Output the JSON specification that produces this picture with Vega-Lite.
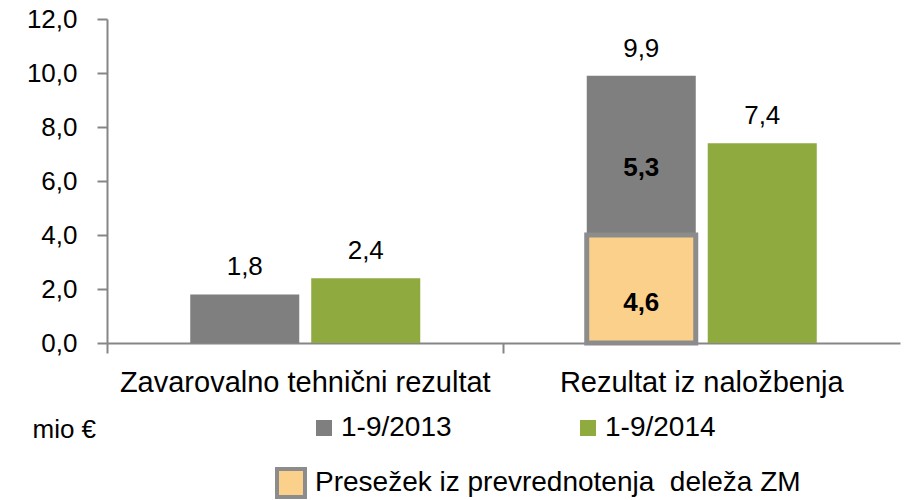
{
  "$schema": "https://vega.github.io/schema/vega-lite/v6.json",
  "autosize": {"type": "none"},
  "padding": {"left": 107, "top": 19, "right": 4, "bottom": 157},
  "width": 793,
  "height": 324,
  "background": "white",
  "config": {
    "view": {"stroke": null},
    "font": "Liberation Sans"
  },
  "datasets": {
    "bars": [
      {"cat": "Zavarovalno tehnični rezultat", "series": "1-9/2013", "part": "1-9/2013", "lo": 0, "hi": 1.8},
      {"cat": "Zavarovalno tehnični rezultat", "series": "1-9/2014", "part": "1-9/2014", "lo": 0, "hi": 2.4},
      {"cat": "Rezultat iz naložbenja", "series": "1-9/2013", "part": "1-9/2013", "lo": 4.0, "hi": 9.9},
      {"cat": "Rezultat iz naložbenja", "series": "1-9/2014", "part": "1-9/2014", "lo": 0, "hi": 7.4}
    ],
    "surplus": [
      {"cat": "Rezultat iz naložbenja", "series": "1-9/2013", "part": "Presežek iz prevrednotenja\u00a0 deleža ZM", "lo": 0, "hi": 4.0}
    ],
    "totals": [
      {"cat": "Zavarovalno tehnični rezultat", "series": "1-9/2013", "value": 1.8, "label": "1,8"},
      {"cat": "Zavarovalno tehnični rezultat", "series": "1-9/2014", "value": 2.4, "label": "2,4"},
      {"cat": "Rezultat iz naložbenja", "series": "1-9/2013", "value": 9.9, "label": "9,9"},
      {"cat": "Rezultat iz naložbenja", "series": "1-9/2014", "value": 7.4, "label": "7,4"}
    ],
    "inner": [
      {"cat": "Rezultat iz naložbenja", "series": "1-9/2013", "at": 6.5, "label": "5,3"},
      {"cat": "Rezultat iz naložbenja", "series": "1-9/2013", "at": 1.48, "label": "4,6"}
    ]
  },
  "encoding": {
    "x": {
      "field": "cat",
      "type": "nominal",
      "sort": ["Zavarovalno tehnični rezultat", "Rezultat iz naložbenja"],
      "scale": {"domain": ["Zavarovalno tehnični rezultat", "Rezultat iz naložbenja"], "paddingInner": 0, "paddingOuter": 0},
      "axis": {
        "title": null,
        "labelAngle": 0,
        "labelFontSize": 29,
        "labelColor": "#000000",
        "labelPadding": 15,
        "labelLimit": 500,
        "domainColor": "#868686",
        "domainWidth": 2,
        "tickColor": "#868686",
        "tickWidth": 2,
        "tickSize": 10,
        "bandPosition": 0
      }
    },
    "xOffset": {
      "field": "series",
      "type": "nominal",
      "scale": {"domain": ["1-9/2013", "1-9/2014"], "paddingInner": 0.099, "paddingOuter": 0.688}
    }
  },
  "layer": [
    {
      "data": {"name": "bars"},
      "mark": {"type": "bar"},
      "encoding": {
        "y": {
          "field": "hi",
          "type": "quantitative",
          "scale": {"domain": [0, 12], "nice": false},
          "axis": {
            "values": [0, 2, 4, 6, 8, 10, 12],
            "format": ".1f",
            "labelExpr": "replace(datum.label, '.', ',')",
            "grid": false,
            "labelFontSize": 26,
            "labelColor": "#000000",
            "labelPadding": 20,
            "domainColor": "#868686",
            "domainWidth": 2,
            "tickColor": "#868686",
            "tickWidth": 2,
            "tickSize": 10,
            "title": "mio €",
            "titleAngle": 0,
            "titleX": -75,
            "titleY": 410,
            "titleAlign": "left",
            "titleBaseline": "middle",
            "titleFontSize": 26,
            "titleFontWeight": "normal",
            "titleColor": "#000000"
          }
        },
        "y2": {"field": "lo"},
        "color": {
          "field": "part",
          "type": "nominal",
          "scale": {"domain": ["1-9/2013", "1-9/2014"], "range": ["#7f7f7f", "#8faa3f"]},
          "legend": {
            "title": null,
            "orient": "none",
            "direction": "horizontal",
            "legendX": 203,
            "legendY": 395,
            "symbolType": "square",
            "symbolSize": 256,
            "symbolStrokeWidth": 0,
            "labelFontSize": 28,
            "labelColor": "#000000",
            "labelOffset": 3,
            "columnPadding": 122,
            "labelLimit": 300
          }
        }
      }
    },
    {
      "data": {"name": "surplus"},
      "mark": {"type": "bar", "stroke": "#8c8c8c", "strokeWidth": 5},
      "encoding": {
        "y": {"field": "hi", "type": "quantitative"},
        "y2": {"field": "lo"},
        "fill": {
          "field": "part",
          "type": "nominal",
          "scale": {"range": ["#fbd08b"]},
          "legend": {
            "title": null,
            "orient": "none",
            "legendX": 168,
            "legendY": 448,
            "symbolType": "square",
            "symbolSize": 784,
            "symbolStrokeColor": "#8c8c8c",
            "symbolStrokeWidth": 4,
            "symbolFillColor": "#fbd08b",
            "labelFontSize": 28,
            "labelColor": "#000000",
            "labelOffset": 8,
            "labelLimit": 600
          }
        }
      }
    },
    {
      "data": {"name": "totals"},
      "mark": {"type": "text", "baseline": "alphabetic", "dy": -19, "fontSize": 26, "color": "#000000"},
      "encoding": {
        "y": {"field": "value", "type": "quantitative"},
        "text": {"field": "label"}
      }
    },
    {
      "data": {"name": "inner"},
      "mark": {"type": "text", "baseline": "middle", "fontSize": 26, "fontWeight": "bold", "color": "#000000"},
      "encoding": {
        "y": {"field": "at", "type": "quantitative"},
        "text": {"field": "label"}
      }
    }
  ]
}
